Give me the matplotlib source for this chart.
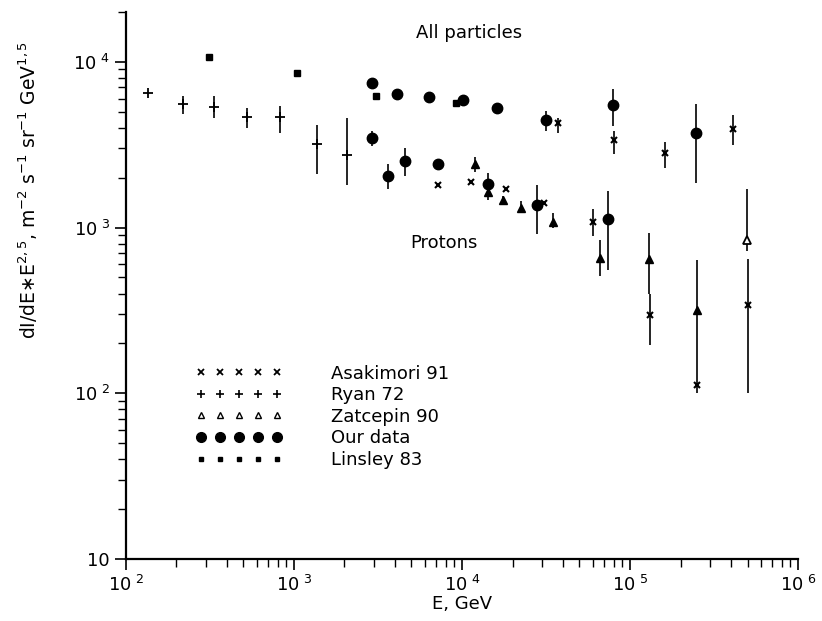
import numpy as np
import matplotlib.pyplot as plt
from matplotlib.lines import Line2D
from matplotlib.ticker import FixedLocator, NullFormatter, LogLocator

# ---- data (E in GeV, flux*E^2.5) ----
# Ryan 72
ryan_e = [135, 218, 334, 525, 826, 1370, 2065]
ryan_v = [6500, 5590, 5360, 4670, 4670, 3210, 2750]
ryan_lo = [np.nan, 4860, 4600, 4000, 3730, 2110, 1815]
ryan_hi = [np.nan, 6240, 6240, 5280, 5430, 4170, 4600]

# Linsley 83
lins_e = [312, 1042, 3077, 9210]
lins_v = [10720, 8590, 6240, 5660]

# Our data, all particles
our_all_e = [2911, 4100, 6360, 10140, 16150, 31620, 79300, 247000]
our_all_v = [7460, 6410, 6150, 5900, 5280, 4480, 5510, 3730]
our_all_lo = [np.nan, np.nan, np.nan, np.nan, 4950, 3840, 4110, 1866]
our_all_hi = [np.nan, np.nan, np.nan, np.nan, 5640, 5070, 6870, 5590]

# Our data, protons
our_p_e = [2911, 3630, 4580, 7200, 14290, 27900, 74000]
our_p_v = [3480, 2056, 2535, 2430, 1841, 1376, 1132]
our_p_lo = [3120, 1718, 2056, np.nan, 1475, 920, 551]
our_p_hi = [3840, 2430, 3035, np.nan, 2143, 1815, 1670]

# Asakimori 91
asa_e = [7200, 11320, 18280, 30760, 60260, 131500, 250600, 503000,
         37260, 80400, 161500, 410000]
asa_v = [1815, 1892, 1718, 1416, 1087, 295, 112, 339,
         4300, 3390, 2830, 3945]
asa_lo = [np.nan, np.nan, np.nan, np.nan, 895, 195, np.nan, 101,
          3730, 2790, 2295, 3160]
asa_hi = [np.nan, np.nan, np.nan, np.nan, 1300, 400, np.nan, 650,
          4600, 3840, 3300, 4800]

# Zatcepin 90
zat_e = [11940, 14290, 17540, 22440, 34800, 66200, 129700, 250600]
zat_v = [2430, 1648, 1475, 1320, 1087, 659, 650, 316]
zat_lo = [2170, np.nan, 1360, 1230, 1000, 507, 400, 100]
zat_hi = [2680, np.nan, 1560, 1450, 1230, 847, 933, 641]
zat_open_e = [497000]
zat_open_v = [847]
zat_open_lo = [726]
zat_open_hi = [1718]

x_ticks = [1e2, 1e3, 1e4, 1e5, 1e6]
x_ticklabels = [r"10$^{\,\,2}$", r"10$^{\,\,3}$", r"10$^{\,\,4}$", r"10$^{\,\,5}$", r"10$^{\,\,6}$"]
y_ticks = [1e1, 1e2, 1e3, 1e4]
y_ticklabels = ["10", r"10$^{\,\,2}$", r"10$^{\,\,3}$", r"10$^{\,\,4}$"]

legend_names = ["Asakimori 91", "Ryan 72", "Zatcepin 90", "Our data", "Linsley 83"]


def _yerr(v, lo, hi):
    """Asymmetric error array from bounds; missing bounds -> no bar."""
    v = np.asarray(v, float)
    lo = np.asarray(lo, float)
    hi = np.asarray(hi, float)
    low = np.where(np.isnan(lo), 0.0, v - lo)
    up = np.where(np.isnan(hi), 0.0, hi - v)
    return np.vstack([low, up])


def _series(ax, e, v, lo, hi, **kw):
    ax.errorbar(e, v, yerr=_yerr(v, lo, hi), linestyle="none", color="black",
                elinewidth=1.2, capsize=0, **kw)


plt.rcParams["font.family"] = "DejaVu Sans"
fig = plt.figure(figsize=(8.22, 6.21), dpi=100)
ax = fig.add_axes([0.153, 0.0998, 0.818, 0.881])

_series(ax, ryan_e, ryan_v, ryan_lo, ryan_hi, marker="+", ms=7, mew=1.3)
ax.plot(lins_e, lins_v, linestyle="none", marker="s", ms=3.8, color="black")
_series(ax, our_all_e, our_all_v, our_all_lo, our_all_hi, marker="o", ms=7.5)
_series(ax, our_p_e, our_p_v, our_p_lo, our_p_hi, marker="o", ms=7.5)
_series(ax, asa_e, asa_v, asa_lo, asa_hi, marker="x", ms=4, mew=1.5)
_series(ax, zat_e, zat_v, zat_lo, zat_hi, marker="^", ms=5.5)
_series(ax, zat_open_e, zat_open_v, zat_open_lo, zat_open_hi, marker="^", ms=6,
        mfc="white", mew=1.3)

ax.set_xscale("log")
ax.set_yscale("log")
ax.set_xlim(1e2, 1e6)
ax.set_ylim(1e1, 2e4)

for side in ("top", "right"):
    ax.spines[side].set_visible(False)
for side in ("left", "bottom"):
    ax.spines[side].set_linewidth(1.6)

ax.xaxis.set_major_locator(FixedLocator(x_ticks))
ax.set_xticklabels(x_ticklabels)
ax.yaxis.set_major_locator(FixedLocator(y_ticks))
ax.set_yticklabels(y_ticklabels)
ax.xaxis.set_minor_locator(LogLocator(base=10, subs=np.arange(2, 10)))
ax.yaxis.set_minor_locator(LogLocator(base=10, subs=np.arange(2, 10)))
ax.xaxis.set_minor_formatter(NullFormatter())
ax.yaxis.set_minor_formatter(NullFormatter())
ax.tick_params(which="major", direction="out", length=8, width=1.2, labelsize=13)
ax.tick_params(which="minor", direction="out", length=6, width=1.0)

ax.set_xlabel("E, GeV", fontsize=13, labelpad=0)
ax.set_ylabel(r"dI/dE$\ast$E$^{2,5}$, m$^{-2}$ s$^{-1}$ sr$^{-1}$ GeV$^{1,5}$",
              fontsize=13.5)
ax.yaxis.set_label_coords(-0.128, 0.675)

ax.text(0.51, 0.962, "All particles", transform=ax.transAxes, fontsize=13,
        ha="center", va="center")
ax.text(0.473, 0.578, "Protons", transform=ax.transAxes, fontsize=13,
        ha="center", va="center")

handles = [
    Line2D([], [], linestyle="none", marker="x", ms=4, mew=1.3, color="black"),
    Line2D([], [], linestyle="none", marker="+", ms=6, mew=1.2, color="black"),
    Line2D([], [], linestyle="none", marker="^", ms=4.5, mfc="white", mew=1.0, color="black"),
    Line2D([], [], linestyle="none", marker="o", ms=7, color="black"),
    Line2D([], [], linestyle="none", marker="s", ms=3.5, color="black"),
]
ax.legend(handles, legend_names, numpoints=5, frameon=False, fontsize=13,
          handlelength=4.8, handletextpad=2.7, labelspacing=0.2,
          loc="upper left", bbox_to_anchor=(0.09, 0.372), borderpad=0)

fig.savefig("out.png", dpi=100)
